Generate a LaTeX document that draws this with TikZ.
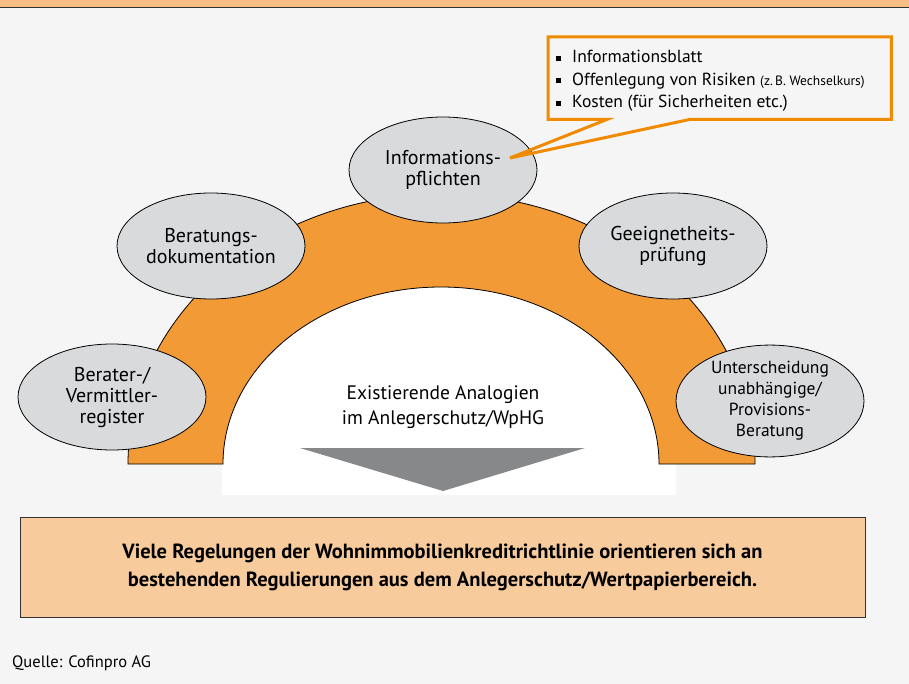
\documentclass[tikz,border=0pt]{standalone}
\usepackage{fontspec}
\setmainfont{PT Sans}
\usetikzlibrary{shapes.geometric}
\definecolor{bgGrey}{HTML}{F5F5F5}
\definecolor{headOrange}{HTML}{F9BE83}
\definecolor{archOrange}{HTML}{F29A35}
\definecolor{boxOrange}{HTML}{F8CB9C}
\definecolor{lineOrange}{HTML}{F08A00}
\definecolor{bubbleGrey}{HTML}{D9DADC}
\definecolor{arrowGrey}{HTML}{87888A}
\newcommand{\bulletbox}{\rule[2pt]{5pt}{5pt}\hspace{11pt}}
\tikzset{
  topic/.style={ellipse, draw=black, fill=bubbleGrey, line width=0.8pt,
    minimum width=188pt, minimum height=106pt, inner sep=0pt, align=center,
    font=\fontsize{20}{21}\selectfont},
  calloutline/.style={draw=lineOrange, line width=3pt, line join=miter},
}

\begin{document}
\begin{tikzpicture}[x=1pt,y=-1pt]
    \useasboundingbox (0,0) rectangle (909,684);
    \fill [bgGrey] (0,0) rectangle (909,684);

    % header band
    \fill [headOrange] (0,0) rectangle (909,7);
    \draw [line width=1.5pt, black!80] (0,7.5) -- (909,7.5);

    % inner white field, then the arch on top
    \fill [white] (223,464) arc [start angle=180, end angle=0, x radius=218pt, y radius=177pt]
        -- (676,464) -- (676,495) -- (222,495) -- (222,464) -- cycle;
    \draw [black, line width=0.8pt, fill=archOrange] (128,464)
        arc [start angle=180, end angle=0, x radius=313.5pt, y radius=270pt]
        -- (659,464)
        arc [start angle=0, end angle=180, x radius=218pt, y radius=177pt]
        -- cycle;

    \node [align=center, font=\fontsize{19.5}{25}\selectfont] (analogien) at (443,407)
        {Existierende Analogien\\im Anlegerschutz/WpHG};
    \fill [arrowGrey] (300,448) -- (585,448) -- (443,491) -- cycle;

    % the five topics
    \node [topic] (pflichten) at (443,170) {Informations-\\pflichten};
    \node [topic] (doku) at (211,246) {Beratungs-\\dokumentation};
    \node [topic] (eignung) at (673,246) {Geeignetheits-\\prüfung};
    \node [topic] (register) at (112,397) {Berater-/\\Vermittler-\\register};
    \node [topic, font=\fontsize{17.5}{21}\selectfont] (provision) at (770,401)
        {Unterscheidung\\unabhängige/\\Provisions-\\Beratung};

    % callout for Informationspflichten
    \coordinate (tip) at (510,158);
    \node [anchor=north west, minimum width=343pt, minimum height=82pt, inner sep=0pt] (infobox) at (548,37) {};
    \node [anchor=west, inner sep=0pt, yshift=-3pt, xshift=8pt, align=left,
        font=\fontsize{17.5}{22.5}\selectfont] (infotext) at (infobox.west)
        {\bulletbox Informationsblatt\\
         \bulletbox Offenlegung von Risiken {\fontsize{13.5}{15}\selectfont(z.\,B. Wechselkurs)}\\
         \bulletbox Kosten (für Sicherheiten etc.)};
    \draw [calloutline] (infobox.north west) -- (infobox.north east) -- (infobox.south east)
        -- ([xshift=142pt]infobox.south west) -- (tip)
        -- ([xshift=59pt]infobox.south west) -- (infobox.south west) -- cycle;

    % conclusion
    \node [draw=black!80, line width=1pt, fill=boxOrange, minimum width=845pt, minimum height=100pt,
        align=center, font=\fontsize{20.5}{28}\selectfont\bfseries] (fazit) at (442.5,567)
        {Viele Regelungen der Wohnimmobilienkreditrichtlinie orientieren sich an\\
         bestehenden Regulierungen aus dem Anlegerschutz/Wertpapierbereich.};

    \node [anchor=base west, inner sep=0pt, font=\fontsize{16.5}{18}\selectfont] (quelle) at (12,667)
        {Quelle: Cofinpro AG};
\end{tikzpicture}
\end{document}
